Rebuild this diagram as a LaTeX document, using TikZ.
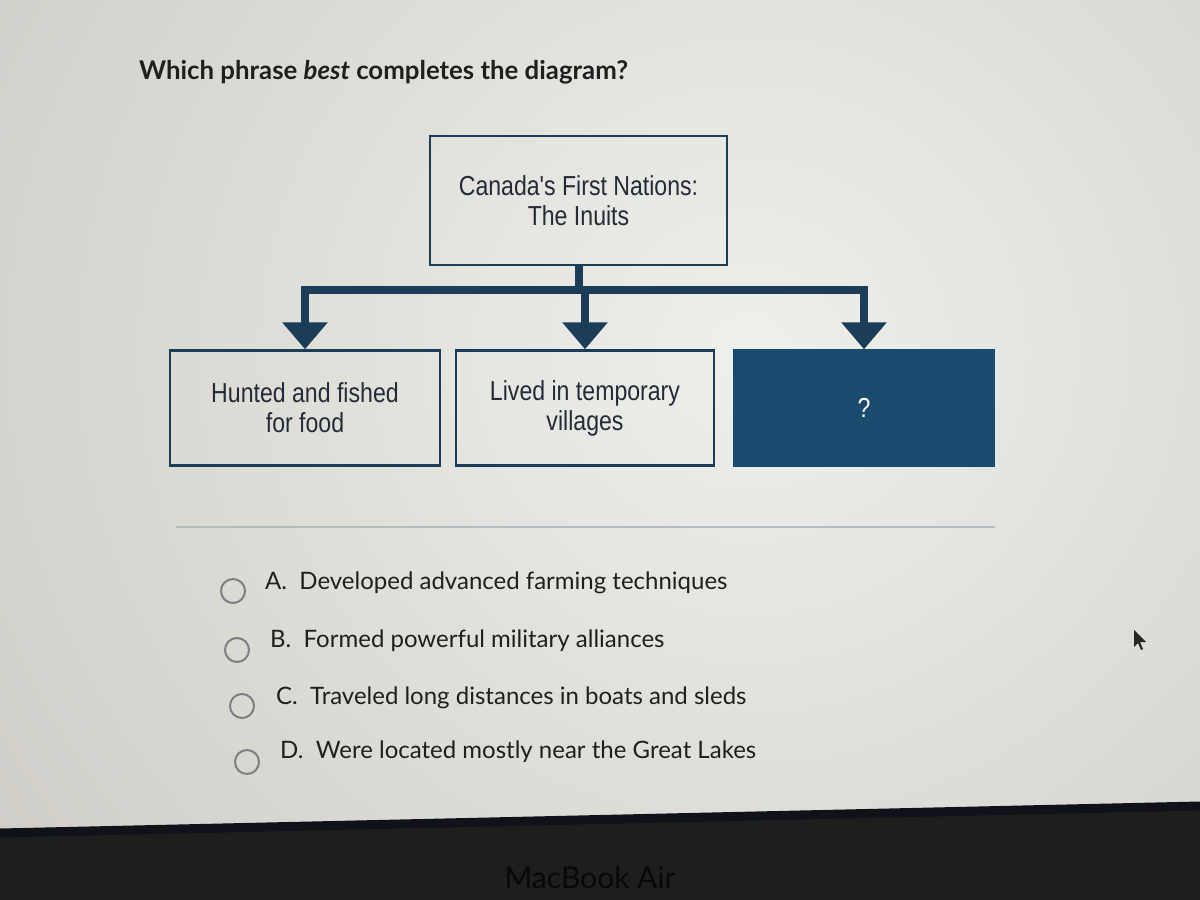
\documentclass[tikz,border=0pt]{standalone}
\usepackage{fontspec}
\setmainfont{Lato}
\newfontfamily\narrowfont[FakeStretch=0.84]{Liberation Sans}
\usetikzlibrary{arrows.meta}
\definecolor{screenhi}{HTML}{EEF0EC}
\definecolor{screenlo}{HTML}{C9C6BF}
\definecolor{navy}{HTML}{1B3D58}
\definecolor{navyfill}{HTML}{1A4A6E}
\definecolor{boxtext}{HTML}{252B36}
\definecolor{bezel}{HTML}{1E1E1C}
\definecolor{bezeledge}{HTML}{0F1218}
\definecolor{optgray}{HTML}{7C8082}
\definecolor{opttext}{HTML}{1F1F1F}
\definecolor{sepgray}{HTML}{B4BCC0}
\begin{document}
\begin{tikzpicture}[x=1pt,y=-1pt,
  diabox/.style={draw=navy, line width=2.5pt, align=center, inner sep=0pt,
    text=boxtext, font=\narrowfont\fontsize{27.5}{30}\selectfont},
  blankbox/.style={diabox, fill=navyfill, draw=navyfill, text=white},
  conn/.style={draw=navy, line width=8pt, line join=miter},
  tip/.style={-{Triangle[width=44pt 0, length=27pt 0]}},
  radio/.style={circle, draw=optgray, line width=2pt, minimum size=24pt, inner sep=0pt},
  opt/.style={anchor=west, inner sep=0pt, text=opttext, font=\fontsize{24}{28}\selectfont},
  question/.style={anchor=west, inner sep=0pt, text=black!88, font=\bfseries\fontsize{25.8}{30}\selectfont}]
\useasboundingbox (0,0) rectangle (1200,900);
\begin{scope}
  \clip (0,0) rectangle (1200,900);
  \shade[inner color=screenhi, outer color=screenlo] (-350,-700) rectangle (1850,1400);
  \fill[bezel] (0,833) -- (1200,806) -- (1200,900) -- (0,900) -- cycle;
  \draw[line width=9pt, bezeledge] (0,833) -- (1200,806);
  \node[text=black!72!bezel, font=\fontsize{30}{34}\selectfont, inner sep=0pt] (mac) at (590,878) {MacBook Air};
\end{scope}

% question
\node[question] (q) at (139,72) {Which phrase \textit{best} completes the diagram?};

% diagram
\node[diabox, minimum width=297pt, minimum height=129pt] (top) at (578.5,200.5) {Canada's First Nations:\\The Inuits};
\node[diabox, minimum width=270pt, minimum height=115pt] (left) at (305,408) {Hunted and fished\\for food};
\node[diabox, minimum width=258pt, minimum height=115pt] (mid) at (585,408) {Lived in temporary\\villages};
\node[blankbox, minimum width=260pt, minimum height=115pt] (right) at (864,408) {?};
\coordinate (jc) at (578.5,290);
\draw[conn, tip] (top.south) -- (jc) -| (left.north);
\draw[conn, tip] (top.south) -- (jc) -| (right.north);
\draw[conn, tip] (top.south) -- (jc) -| (mid.north);

% separator
\coordinate (sepl) at (176,527);
\coordinate (sepr) at (995,527);
\draw[sepgray, line width=1.5pt] (sepl) -- (sepr);

% options
\node[radio] (ra) at (233,591) {};
\node[radio] (rb) at (237,650) {};
\node[radio] (rc) at (242,706) {};
\node[radio] (rd) at (247,762) {};
\node[opt] (ta) at (265,583) {A.\ \ Developed advanced farming techniques};
\node[opt] (tb) at (270,641) {B.\ \ Formed powerful military alliances};
\node[opt] (tc) at (276,698) {C.\ \ Traveled long distances in boats and sleds};
\node[opt] (td) at (280,752) {D.\ \ Were located mostly near the Great Lakes};

% mouse pointer
\fill[black!85, shift={(1134,630)}] (0,0) -- (0,17) -- (4,13) -- (7,20) -- (9,19) -- (6,12) -- (12,12) -- cycle;
\end{tikzpicture}
\end{document}
